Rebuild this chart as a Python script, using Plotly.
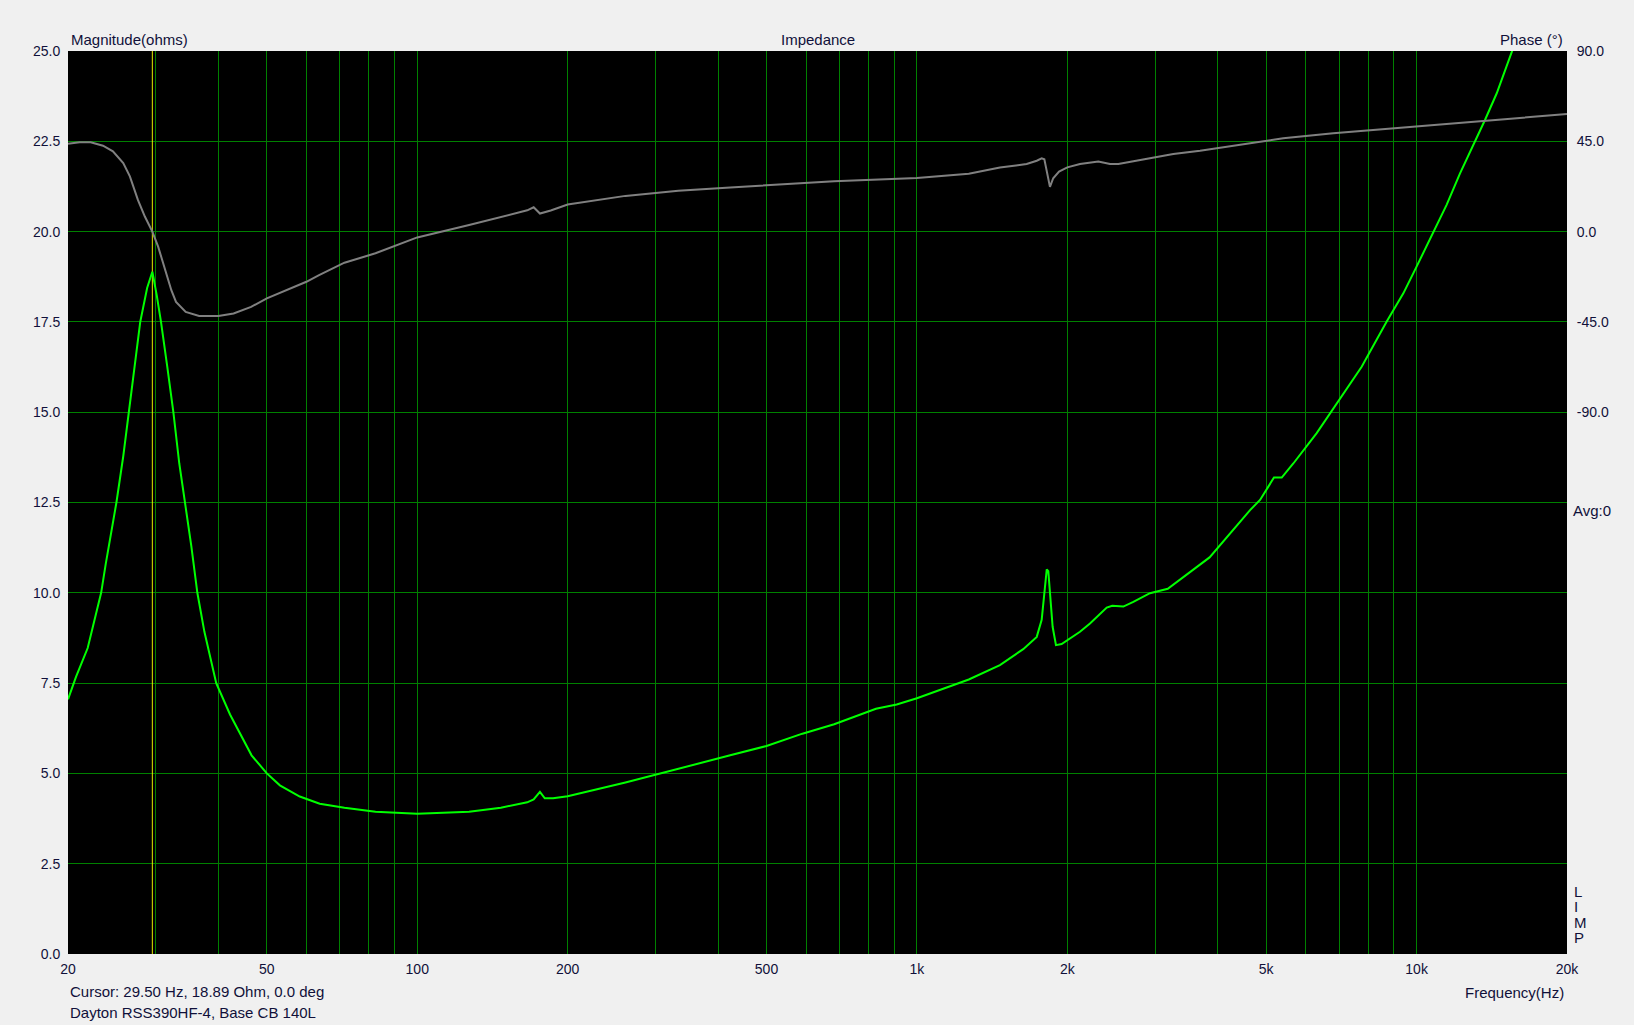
import plotly.graph_objects as go

# ---- data ----
mag_freq = [20, 20.76, 21.9, 22.6, 23.3, 23.8, 24.4, 25.0, 25.8, 26.5, 27.2, 27.9, 28.8, 29.5,
            30.1, 30.7, 31.6, 32.5, 33.4, 34.3, 35.3, 36.3, 37.5, 39.6, 42.2, 46.6, 50, 53.1,
            58.2, 63.8, 71.5, 82.5, 100, 127, 147, 166, 171, 176, 180, 187, 200, 261, 333,
            423, 500, 590, 683, 828, 911, 1000, 1270, 1466, 1632, 1737, 1777, 1799, 1819,
            1832, 1846, 1869, 1898, 1948, 2120, 2220, 2398, 2460, 2589, 2711, 2927, 3177,
            3852, 4642, 4861, 5183, 5372, 5666, 6311, 6972, 7764, 8714, 9408, 10000, 10800,
            11484, 12216, 13190, 13705, 14468, 15505, 16500]
mag_ohm = [7.05, 7.68, 8.47, 9.22, 10.0, 10.8, 11.7, 12.5, 13.78, 15.0, 16.26, 17.5, 18.44, 18.89,
           18.24, 17.5, 16.26, 15.0, 13.58, 12.5, 11.3, 10.0, 8.92, 7.5, 6.63, 5.5, 5.0, 4.67,
           4.36, 4.16, 4.05, 3.94, 3.88, 3.94, 4.05, 4.2, 4.28, 4.49, 4.31, 4.31, 4.37, 4.75, 5.12,
           5.5, 5.76, 6.1, 6.36, 6.79, 6.91, 7.08, 7.6, 8.0, 8.44, 8.78, 9.25, 9.99, 10.65,
           10.6, 9.99, 9.06, 8.55, 8.58, 8.92, 9.15, 9.59, 9.64, 9.62, 9.75, 9.99, 10.11,
           10.98, 12.29, 12.57, 13.19, 13.19, 13.58, 14.42, 15.29, 16.26, 17.51, 18.29, 19.03, 19.97,
           20.74, 21.61, 22.58, 23.09, 23.83, 24.98, 26.0]

ph_freq = [20, 21.1, 22.2, 23.5, 24.6, 25.8, 26.6, 27.6, 28.5, 29.5, 30.3, 31.2, 32.2, 32.9,
           34.4, 36.6, 40, 42.9, 46.5, 50, 54.5, 60, 63.6, 71.5, 82.5, 100, 127, 147, 166, 171,
           176, 185, 200, 261, 333, 423, 683, 1000, 1270, 1466, 1658, 1737, 1777, 1799, 1819,
           1846, 1874, 1925, 2000, 2120, 2307, 2435, 2530, 2796, 3000, 3259, 3687, 4642, 5409,
           6813, 8985, 11667, 13600, 15860, 20000]
ph_deg = [43.8, 44.5, 44.5, 42.8, 40, 34.2, 27.5, 15.8, 7.5, 0, -7.5, -17.5, -29.2, -35,
          -40, -42, -42, -40.8, -37.5, -33.3, -29.2, -25, -21.7, -15.5, -10.8, -2.9, 3.3, 7.4, 10.6, 12.1,
          9, 10.5, 13.5, 17.8, 20.4, 22, 25.1, 26.7, 28.8, 31.9, 33.7, 35.3, 36.5, 36, 30.7,
          22.3, 26.6, 29.9, 32, 33.7, 34.9, 33.7, 33.7, 35.7, 37.0, 38.7, 40.3, 43.9, 46.5,
          49, 51.5, 53.6, 55.1, 56.5, 58.6]

cursor_freq = 29.5
x_grid = [20, 30, 40, 50, 60, 70, 80, 90, 100, 200, 300, 400, 500, 600, 700, 800, 900,
          1000, 2000, 3000, 4000, 5000, 6000, 7000, 8000, 9000, 10000, 20000]
x_labels = {20: "20", 50: "50", 100: "100", 200: "200", 500: "500", 1000: "1k",
            2000: "2k", 5000: "5k", 10000: "10k", 20000: "20k"}
mag_ticks = [0, 2.5, 5, 7.5, 10, 12.5, 15, 17.5, 20, 22.5, 25]
phase_ticks = [90, 45, 0, -45, -90]
phase_labels = ["90.0", "45.0", "0.0", "-45.0", "-90.0"]
limp_letters = ["L", "I", "M", "P"]

FONT = "Liberation Sans, Arial, sans-serif"
TXT = "#10103a"
GRID = "#008000"

fig = go.Figure()
fig.add_trace(go.Scatter(x=ph_freq, y=ph_deg, yaxis="y2", mode="lines",
                         line=dict(color="#808080", width=2), hoverinfo="skip"))
fig.add_trace(go.Scatter(x=[cursor_freq, cursor_freq], y=[0, 25], mode="lines",
                         line=dict(color="#e8e800", width=1), hoverinfo="skip"))
fig.add_trace(go.Scatter(x=mag_freq, y=mag_ohm, mode="lines",
                         line=dict(color="#00ff00", width=2), hoverinfo="skip"))

AF = dict(family=FONT, size=15, color=TXT)
annotations = [
    dict(text="Magnitude(ohms)", xref="paper", yref="paper", x=0, y=1, xanchor="left",
         yanchor="middle", yshift=12, xshift=1, showarrow=False, font=AF),
    dict(text="Impedance", xref="paper", yref="paper", x=0.5, y=1, xanchor="center",
         yanchor="middle", yshift=12, showarrow=False, font=AF),
    dict(text="Phase (°)", xref="paper", yref="paper", x=1, y=1, xanchor="right",
         yanchor="middle", yshift=12, xshift=-2, showarrow=False, font=AF),
    dict(text="Frequency(Hz)", xref="paper", yref="paper", x=1, y=0, xanchor="right",
         yanchor="middle", yshift=-38, xshift=-1, showarrow=False, font=AF),
    dict(text="Cursor: 29.50 Hz, 18.89 Ohm, 0.0 deg", xref="paper", yref="paper", x=0, y=0,
         xanchor="left", yanchor="middle", yshift=-37, showarrow=False, font=AF),
    dict(text="Dayton RSS390HF-4, Base CB 140L", xref="paper", yref="paper", x=0, y=0,
         xanchor="left", yanchor="middle", yshift=-58, showarrow=False, font=AF),
    dict(text="Avg:0", xref="paper", yref="y", x=1, y=12.5, xanchor="left",
         yanchor="middle", xshift=4, yshift=-8, showarrow=False, font=AF),
]
for i, ch in enumerate(limp_letters):
    annotations.append(dict(text=ch, xref="paper", yref="paper", x=1, y=0, xanchor="left",
                            yanchor="middle", xshift=5, yshift=63 - 15.5 * i, showarrow=False,
                            font=AF))

fig.update_layout(
    width=1634, height=1025,
    paper_bgcolor="#f0f0f0", plot_bgcolor="black",
    margin=dict(l=68, r=67, t=51, b=71, pad=0),
    showlegend=False,
    font=dict(family=FONT, size=14, color=TXT),
    annotations=annotations,
    xaxis=dict(type="log", range=[1.30103, 4.30103], tickvals=x_grid,
               ticktext=[x_labels.get(v, "") for v in x_grid],
               showgrid=True, gridcolor=GRID, gridwidth=1, zeroline=False,
               ticks="outside", ticklen=2, tickcolor="rgba(0,0,0,0)",
               showline=False, automargin=False, fixedrange=True),
    yaxis=dict(range=[0, 25], tickvals=mag_ticks, tickformat=".1f",
               showgrid=True, gridcolor=GRID, gridwidth=1, zeroline=False,
               ticks="outside", ticklen=4, tickcolor="rgba(0,0,0,0)",
               showline=False, automargin=False, fixedrange=True),
    yaxis2=dict(range=[-360, 90], overlaying="y", side="right", tickvals=phase_ticks,
                ticktext=phase_labels, showgrid=False, zeroline=False,
                ticks="outside", ticklen=6, tickcolor="rgba(0,0,0,0)",
                showline=False, automargin=False, fixedrange=True),
)

fig.write_html("out.html", config={"displayModeBar": False},
               post_script="document.body.style.margin='0';document.body.style.overflow='hidden';")
